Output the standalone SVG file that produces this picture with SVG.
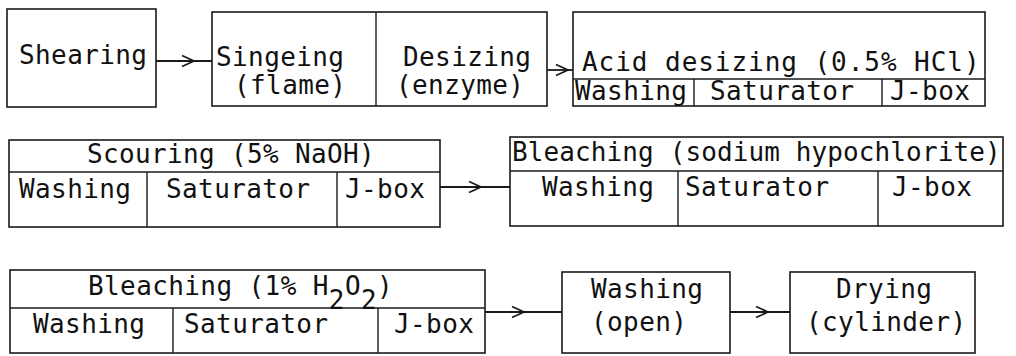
<svg xmlns="http://www.w3.org/2000/svg" width="1016" height="356" viewBox="0 0 1016 356">
<defs>
<style>
.box{fill:none;stroke:#1a1a1a;stroke-width:1.6}
.ln{fill:none;stroke:#1a1a1a;stroke-width:1.4}
.t{font-family:"DejaVu Sans Mono","Liberation Mono",monospace;font-size:26px;letter-spacing:0.4px;fill:#111}
.c{fill:none;stroke:#1a1a1a;stroke-width:1.8;marker-mid:url(#chev)}
</style>
<marker id="chev" viewBox="0 0 14 14" refX="13" refY="7" markerWidth="14" markerHeight="14" markerUnits="userSpaceOnUse" orient="auto">
<path d="M1,1.5 L13,7 L1,12.5" fill="none" stroke="#1a1a1a" stroke-width="1.7"/>
</marker>
</defs>
<rect width="1016" height="356" fill="#fff"/>

<g id="shearing">
<rect class="box" x="7" y="9" width="149" height="98"/>
<text class="t" x="19" y="64">Shearing</text>
</g>

<g id="singeing-desizing">
<rect class="box" x="212" y="12" width="335" height="94"/>
<line class="ln" x1="376" y1="12" x2="376" y2="106"/>
<text class="t" x="216" y="66">Singeing</text>
<text class="t" x="234" y="94">(flame)</text>
<text class="t" x="403" y="66">Desizing</text>
<text class="t" x="396" y="94">(enzyme)</text>
</g>

<g id="acid-desizing">
<rect class="box" x="573" y="12" width="412" height="94"/>
<line class="ln" x1="573" y1="79" x2="985" y2="79"/>
<line class="ln" x1="694" y1="79" x2="694" y2="106"/>
<line class="ln" x1="882" y1="79" x2="882" y2="106"/>
<text class="t" x="582" y="71" textLength="398" lengthAdjust="spacing">Acid desizing (0.5% HCl)</text>
<text class="t" x="575" y="100">Washing</text>
<text class="t" x="710" y="100">Saturator</text>
<text class="t" x="890" y="100">J-box</text>
</g>

<g id="scouring">
<rect class="box" x="9" y="140" width="431" height="87"/>
<line class="ln" x1="9" y1="172" x2="440" y2="172"/>
<line class="ln" x1="147" y1="172" x2="147" y2="227"/>
<line class="ln" x1="337" y1="172" x2="337" y2="227"/>
<text class="t" x="87" y="163" textLength="288" lengthAdjust="spacing">Scouring (5% NaOH)</text>
<text class="t" x="19" y="198">Washing</text>
<text class="t" x="166" y="198">Saturator</text>
<text class="t" x="345" y="198">J-box</text>
</g>

<g id="bleaching-hypochlorite">
<rect class="box" x="510" y="137" width="493" height="89"/>
<line class="ln" x1="510" y1="171" x2="1003" y2="171"/>
<line class="ln" x1="678" y1="171" x2="678" y2="226"/>
<line class="ln" x1="878" y1="171" x2="878" y2="226"/>
<text class="t" x="512" y="161" textLength="489" lengthAdjust="spacing">Bleaching (sodium hypochlorite)</text>
<text class="t" x="542" y="196">Washing</text>
<text class="t" x="685" y="196">Saturator</text>
<text class="t" x="892" y="196">J-box</text>
</g>

<g id="bleaching-peroxide">
<rect class="box" x="10" y="270" width="475" height="83"/>
<line class="ln" x1="10" y1="308" x2="485" y2="308"/>
<line class="ln" x1="173" y1="308" x2="173" y2="353"/>
<line class="ln" x1="378" y1="308" x2="378" y2="353"/>
<text class="t" x="88" y="295">Bleaching (1% H<tspan dy="14">2</tspan><tspan dy="-14">O</tspan><tspan dy="14">2</tspan><tspan dy="-14">)</tspan></text>
<text class="t" x="33" y="333">Washing</text>
<text class="t" x="184" y="333">Saturator</text>
<text class="t" x="394" y="333">J-box</text>
</g>

<g id="washing-open">
<rect class="box" x="562" y="272" width="168" height="81"/>
<text class="t" x="591" y="298">Washing</text>
<text class="t" x="591" y="331">(open)</text>
</g>

<g id="drying">
<rect class="box" x="790" y="272" width="185" height="81"/>
<text class="t" x="836" y="298">Drying</text>
<text class="t" x="806" y="331">(cylinder)</text>
</g>

<g id="connectors">
<path class="c" d="M156,61 L194,61 L212,61"/>
<path class="c" d="M547,70 L568,70 L573,70"/>
<path class="c" d="M440,187 L481,187 L510,187"/>
<path class="c" d="M485,312 L524,312 L562,312"/>
<path class="c" d="M730,312 L768,312 L790,312"/>
</g>
</svg>
